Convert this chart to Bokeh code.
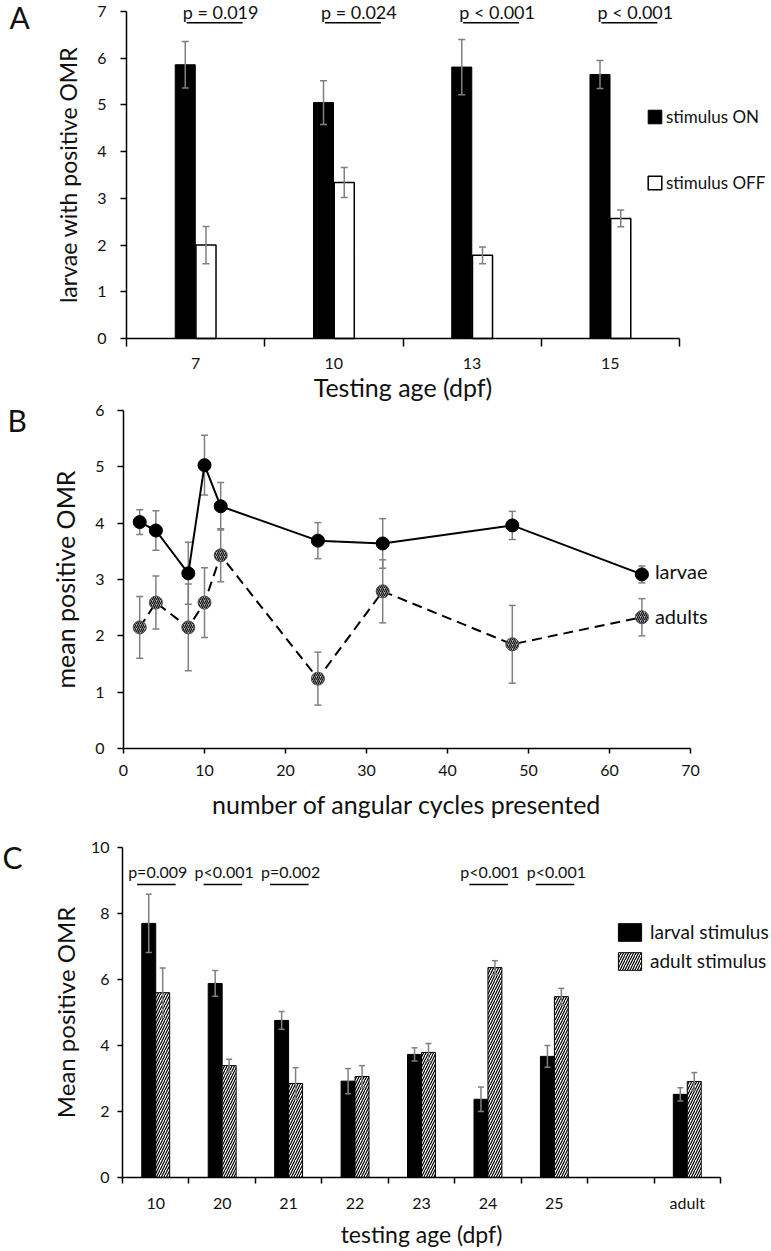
import math
from bokeh.plotting import figure
from bokeh.models import (ColumnDataSource, FixedTicker, Legend, LegendItem, Label, LabelSet,
                          Range1d, LinearAxis)
from bokeh.transform import dodge
from bokeh.embed import file_html
from bokeh.resources import INLINE
from bokeh.core.properties import value

# ---------------- data ----------------
# Panel A
a_ages = ["7", "10", "13", "15"]
a_series = ["stimulus ON", "stimulus OFF"]
a_on = [5.86, 5.05, 5.81, 5.65]
a_on_err = [0.50, 0.47, 0.59, 0.30]
a_off = [2.00, 3.34, 1.78, 2.57]
a_off_err = [0.40, 0.32, 0.18, 0.18]
a_p = ["p = 0.019", "p = 0.024", "p < 0.001", "p < 0.001"]

# Panel B
b_cycles = [2, 4, 8, 10, 12, 24, 32, 48, 64]
b_cycles_err = [0.7, 0.7, 0.7, 0.7, 0.7, 0.7, 0.7, 0.7, 0.7]
b_series = ["larvae", "adults"]
b_larvae = [4.02, 3.87, 3.11, 5.03, 4.30, 3.69, 3.64, 3.96, 3.09]
b_larvae_err = [0.22, 0.35, 0.55, 0.53, 0.42, 0.32, 0.44, 0.25, 0.15]
b_adults = [2.15, 2.59, 2.15, 2.59, 3.43, 1.24, 2.79, 1.85, 2.33]
b_adults_err = [0.55, 0.47, 0.77, 0.62, 0.47, 0.47, 0.56, 0.69, 0.33]

# Panel C
c_ages = ["10", "20", "21", "22", "23", "24", "25", "", "adult"]
c_series = ["larval stimulus", "adult stimulus"]
c_larval = [7.70, 5.88, 4.76, 2.92, 3.73, 2.37, 3.67, None, 2.52]
c_larval_err = [0.88, 0.39, 0.27, 0.38, 0.20, 0.37, 0.33, None, 0.20]
c_adult = [5.60, 3.39, 2.85, 3.06, 3.79, 6.36, 5.48, None, 2.91]
c_adult_err = [0.75, 0.19, 0.48, 0.33, 0.27, 0.21, 0.25, None, 0.27]
c_p_ages = ["10", "20", "21", "24", "25"]
c_p = ["p=0.009", "p<0.001", "p=0.002", "p<0.001", "p<0.001"]

FONT = "Lato"
TXT = "#111111"
ERR = "#808080"
W, H = 771, 1251

p = figure(width=W, height=H, x_range=Range1d(0, 1), y_range=Range1d(0, 1),
           output_backend="svg", toolbar_location=None,
           x_axis_location=None, y_axis_location=None,
           min_border=0, min_border_left=0, min_border_right=0,
           min_border_top=0, min_border_bottom=0)
p.grid.visible = False
p.outline_line_color = None


def panel(name, x0, x1, px0, px1, y0, y1, py_top, py_bottom):
    """Own x/y ranges so that the data box (x0..x1, y0..y1) lands on the given canvas pixels,
    plus axes fixed at the box's left and bottom edges."""
    sx = (px1 - px0) / (x1 - x0)
    sy = (py_bottom - py_top) / (y1 - y0)
    p.extra_x_ranges[name] = Range1d(x0 - px0 / sx, x1 + (W - px1) / sx)
    p.extra_y_ranges[name] = Range1d(y0 - (H - py_bottom) / sy, y1 + py_top / sy)
    xa = LinearAxis(x_range_name=name, y_range_name=name, fixed_location=y0, bounds=(x0, x1))
    ya = LinearAxis(x_range_name=name, y_range_name=name, fixed_location=x0, bounds=(y0, y1))
    p.add_layout(xa, "below")
    p.add_layout(ya, "left")
    for ax in (xa, ya):
        ax.axis_line_color = "black"
        ax.axis_line_width = 1.5
        ax.major_tick_line_color = "black"
        ax.major_tick_line_width = 1.5
        ax.major_tick_in = 0
        ax.minor_tick_line_color = None
        ax.major_label_text_font = FONT
        ax.major_label_text_font_size = "16px"
        ax.major_label_text_color = TXT
        ax.axis_label_text_font = FONT
        ax.axis_label_text_font_style = "normal"
        ax.axis_label_text_font_size = "24px"
        ax.axis_label_text_color = TXT
    return xa, ya


def rn(name):
    return dict(x_range_name=name, y_range_name=name)


def vert_err(src, x, lo, hi, name, cap=7):
    p.segment(x0=x, y0=lo, x1=x, y1=hi, source=src, line_color=ERR, line_width=1.5, **rn(name))
    p.scatter(x=x, y=lo, marker="dash", size=cap, line_color=ERR, line_width=1.5, source=src, **rn(name))
    p.scatter(x=x, y=hi, marker="dash", size=cap, line_color=ERR, line_width=1.5, source=src, **rn(name))


def cat_xaxis(ax, cats, tick_out):
    n = len(cats)
    centers = [i + 0.5 for i in range(n)]
    ax.ticker = FixedTicker(ticks=centers, minor_ticks=list(range(n + 1)))
    ax.major_label_overrides = {c: lab for c, lab in zip(centers, cats)}
    ax.major_tick_line_color = None
    ax.major_tick_out = tick_out
    ax.minor_tick_line_color = "black"
    ax.minor_tick_line_width = 1.5
    ax.minor_tick_out = tick_out
    ax.minor_tick_in = 0


def panel_letter(text, x, y_from_top):
    p.add_layout(Label(x=x, y=H - y_from_top, x_units="screen", y_units="screen", text=text,
                       text_font=FONT, text_font_size="30px", text_color=TXT,
                       text_baseline="alphabetic"))


# ---------------- Panel A ----------------
nA = len(a_ages)
srcA = ColumnDataSource(dict(
    x=[i + 0.5 for i in range(nA)],
    on=a_on,
    on_lo=[v - e for v, e in zip(a_on, a_on_err)],
    on_hi=[v + e for v, e in zip(a_on, a_on_err)],
    off=a_off,
    off_lo=[v - e for v, e in zip(a_off, a_off_err)],
    off_hi=[v + e for v, e in zip(a_off, a_off_err)],
    p=a_p,
))
xaA, yaA = panel("a", 0, nA, 126, 679, 0, 7, 11, 338)
yaA.ticker = FixedTicker(ticks=list(range(0, 8)))
yaA.major_tick_out = 6
yaA.major_label_standoff = 14
yaA.axis_label = "larvae with positive OMR"
yaA.axis_label_text_font_size = "23px"
yaA.axis_label_standoff = 12
cat_xaxis(xaA, a_ages, 8)
xaA.major_label_standoff = 11
xaA.axis_label = "Testing age (dpf)"
xaA.axis_label_text_font_size = "25px"
xaA.axis_label_standoff = 0

rOn = p.vbar(x=dodge("x", -0.075), top="on", width=0.145, source=srcA,
             fill_color="black", line_color="black", line_width=1, **rn("a"))
rOff = p.vbar(x=dodge("x", 0.075), top="off", width=0.145, source=srcA,
              fill_color="white", line_color="black", line_width=1.5, **rn("a"))
vert_err(srcA, dodge("x", -0.075), "on_lo", "on_hi", "a")
vert_err(srcA, dodge("x", 0.075), "off_lo", "off_hi", "a")
p.segment(x0=dodge("x", -0.065), y0=6.76, x1=dodge("x", 0.34), y1=6.76, source=srcA,
          line_color="black", line_width=1.5, **rn("a"))
p.add_layout(LabelSet(x="x", y=6.84, text="p", source=srcA, x_offset=25,
                      text_align="center", text_baseline="alphabetic",
                      text_font=value(FONT), text_font_size=value("18px"), text_color=TXT,
                      **rn("a")))
legA = Legend(items=[LegendItem(label=a_series[0], renderers=[rOn]),
                     LegendItem(label=a_series[1], renderers=[rOff])],
              location=(646, H - 193), orientation="vertical", padding=0, margin=0,
              spacing=45, glyph_width=17, glyph_height=17, label_standoff=3,
              label_height=20, border_line_color=None, background_fill_alpha=0,
              label_text_font=FONT, label_text_font_size="17px", label_text_color=TXT)
p.add_layout(legA)
panel_letter("A", 9, 16)

# ---------------- Panel B ----------------
def b_source(xs, ys, es):
    return ColumnDataSource(dict(
        x=xs, y=ys,
        lo=[v - e for v, e in zip(ys, es)], hi=[v + e for v, e in zip(ys, es)],
        xlo=[v - e for v, e in zip(xs, b_cycles_err)], xhi=[v + e for v, e in zip(xs, b_cycles_err)],
    ))


srcL = b_source(b_cycles, b_larvae, b_larvae_err)
srcD = b_source(b_cycles, b_adults, b_adults_err)
xaB, yaB = panel("b", 0, 70, 123, 690, 0, 6, 410, 748)
yaB.ticker = FixedTicker(ticks=list(range(0, 7)))
yaB.major_tick_out = 6
yaB.major_label_standoff = 13
yaB.axis_label = "mean positive OMR"
yaB.axis_label_text_font_size = "25px"
yaB.axis_label_standoff = 12
xaB.ticker = FixedTicker(ticks=list(range(0, 71, 10)))
xaB.major_tick_out = 5
xaB.major_label_standoff = 11
xaB.axis_label = "number of angular cycles presented"
xaB.axis_label_text_font_size = "25px"
xaB.axis_label_standoff = 10

for src in (srcL, srcD):
    vert_err(src, "x", "lo", "hi", "b")
    p.segment(x0="xlo", y0="y", x1="xhi", y1="y", source=src, line_color=ERR, line_width=1.5,
              **rn("b"))
    p.scatter(x="xlo", y="y", marker="dash", angle=math.pi / 2, size=6, line_color=ERR,
              line_width=1.5, source=src, **rn("b"))
    p.scatter(x="xhi", y="y", marker="dash", angle=math.pi / 2, size=6, line_color=ERR,
              line_width=1.5, source=src, **rn("b"))
p.line("x", "y", source=srcL, line_color="black", line_width=2, **rn("b"))
p.line("x", "y", source=srcD, line_color="black", line_width=2, line_dash="10 6", **rn("b"))
p.scatter("x", "y", source=srcL, size=13, fill_color="black", line_color="black", **rn("b"))
p.scatter("x", "y", source=srcD, size=13, fill_color="#b4b4b4", line_color="#555555",
          hatch_pattern="/", hatch_color="#111111", hatch_scale=4, hatch_weight=1.2, **rn("b"))
p.add_layout(Label(x=b_cycles[-1], y=b_larvae[-1], x_offset=13, y_offset=3, text=b_series[0],
                   text_font=FONT, text_font_size="20px", text_color=TXT, text_baseline="middle",
                   **rn("b")))
p.add_layout(Label(x=b_cycles[-1], y=b_adults[-1], x_offset=13, y_offset=1, text=b_series[1],
                   text_font=FONT, text_font_size="20px", text_color=TXT, text_baseline="middle",
                   **rn("b")))
panel_letter("B", 7, 419)

# ---------------- Panel C ----------------
nC = len(c_ages)
keep = [i for i in range(nC) if c_larval[i] is not None]
srcC = ColumnDataSource(dict(
    x=[i + 0.5 for i in keep],
    lar=[c_larval[i] for i in keep],
    lar_lo=[c_larval[i] - c_larval_err[i] for i in keep],
    lar_hi=[c_larval[i] + c_larval_err[i] for i in keep],
    adu=[c_adult[i] for i in keep],
    adu_lo=[c_adult[i] - c_adult_err[i] for i in keep],
    adu_hi=[c_adult[i] + c_adult_err[i] for i in keep],
))
srcCp = ColumnDataSource(dict(
    x=[c_ages.index(a) + 0.5 for a in c_p_ages],
    p=c_p,
))
xaC, yaC = panel("c", 0, nC, 122, 720, 0, 10, 847, 1177)
yaC.ticker = FixedTicker(ticks=list(range(0, 11, 2)))
yaC.major_tick_out = 5
yaC.major_label_standoff = 8
yaC.axis_label = "Mean positive OMR"
yaC.axis_label_text_font_size = "24px"
yaC.axis_label_standoff = 8
cat_xaxis(xaC, c_ages, 6)
xaC.major_label_standoff = 9
xaC.axis_label = "testing age (dpf)"
xaC.axis_label_text_font_size = "23px"
xaC.axis_label_standoff = 5

rLar = p.vbar(x=dodge("x", -0.105), top="lar", width=0.21, source=srcC,
              fill_color="black", line_color="black", line_width=1, **rn("c"))
rAdu = p.vbar(x=dodge("x", 0.105), top="adu", width=0.21, source=srcC,
              fill_color="white", line_color="black", line_width=1,
              hatch_pattern="/", hatch_color="black", hatch_scale=5, hatch_weight=1.2, **rn("c"))
vert_err(srcC, dodge("x", -0.105), "lar_lo", "lar_hi", "c", cap=6)
vert_err(srcC, dodge("x", 0.105), "adu_lo", "adu_hi", "c", cap=6)
p.segment(x0=dodge("x", -0.28), y0=8.88, x1=dodge("x", 0.3), y1=8.88, source=srcCp,
          line_color="black", line_width=1.5, **rn("c"))
p.add_layout(LabelSet(x="x", y=9.08, text="p", source=srcCp, x_offset=2,
                      text_align="center", text_baseline="alphabetic",
                      text_font=value(FONT), text_font_size=value("16px"), text_color=TXT,
                      **rn("c")))
legC = Legend(items=[LegendItem(label=c_series[0], renderers=[rLar]),
                     LegendItem(label=c_series[1], renderers=[rAdu])],
              location=(615, H - 972), orientation="vertical", padding=0, margin=0,
              spacing=6, glyph_width=29, glyph_height=22, label_standoff=6,
              label_height=22, border_line_color=None, background_fill_alpha=0,
              label_text_font=FONT, label_text_font_size="19px", label_text_color=TXT)
p.add_layout(legC)
panel_letter("C", 2, 856)

open("out.html", "w").write(file_html(p, INLINE))
